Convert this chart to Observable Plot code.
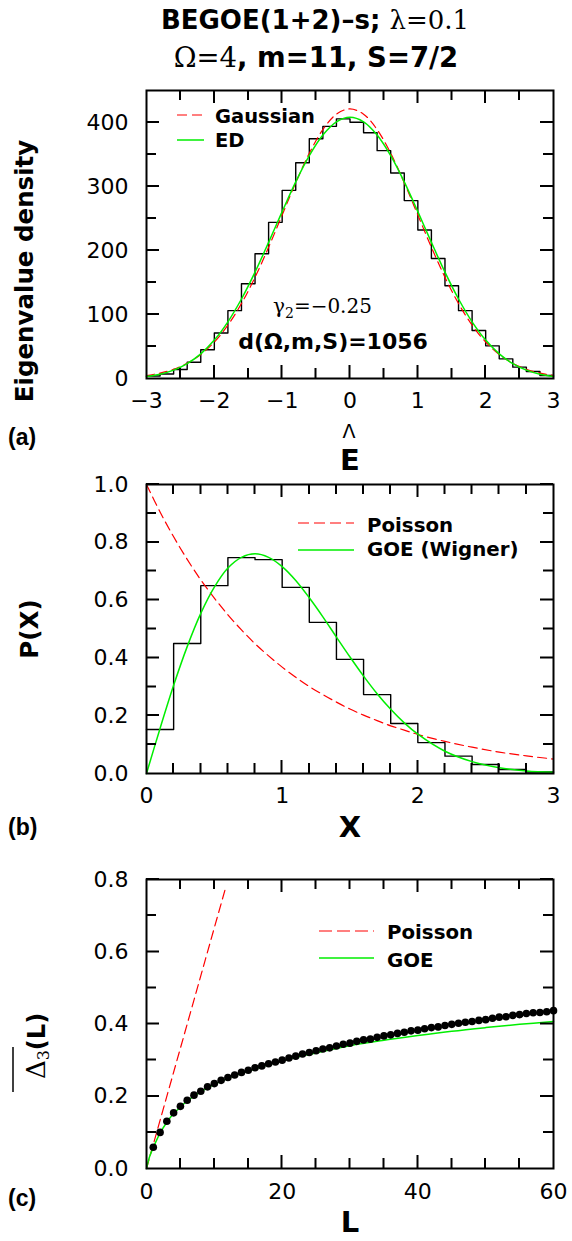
<!DOCTYPE html>
<html><head><meta charset="utf-8">
<script src="https://cdn.jsdelivr.net/npm/d3@7"></script>
<script src="https://cdn.jsdelivr.net/npm/@observablehq/plot@0.6"></script>
<style>
body{margin:0;background:#fff;}
#page{position:relative;width:572px;height:1241px;overflow:hidden;background:#fff;}
#overlay{position:absolute;left:0;top:0;pointer-events:none;}
.b{font-family:"DejaVu Sans";font-weight:bold;}
.s{font-family:"DejaVu Serif";font-weight:normal;}
.h{font-family:"Liberation Sans";font-weight:bold;}
.n{font-family:"DejaVu Sans";font-weight:normal;}
</style>
</head><body>
<div id="page"></div>
<script>
// ---------- Panel (a): eigenvalue density ----------
const histAEdges = [-3.0,-2.8,-2.6,-2.4,-2.2,-2.0,-1.8,-1.6,-1.4,-1.2,-1.0,-0.8,-0.6,-0.4,-0.2,0.0,0.2,0.4,0.6,0.8,1.0,1.2,1.4,1.6,1.8,2.0,2.2,2.4,2.6,2.8,3.0];
const histACounts = [4,7,14,25.5,45,71,106,148,195,244,294,337,374.5,394,405.7,400.5,384,356,321,278,232,187.5,145,106,75,51,30.7,17.7,11,4.7];
const curveAX = [-3.0,-2.8,-2.6,-2.4,-2.2,-2.0,-1.8,-1.6,-1.4,-1.2,-1.0,-0.8,-0.6,-0.4,-0.2,0.0,0.2,0.4,0.6,0.8,1.0,1.2,1.4,1.6,1.8,2.0,2.2,2.4,2.6,2.8,3.0];
const gaussianA = [4.7,8.4,14.3,23.7,37.5,57.0,83.4,117.1,158.1,205.1,255.5,305.9,351.9,388.9,413.0,421.3,413.0,388.9,351.9,305.9,255.5,205.1,158.1,117.1,83.4,57.0,37.5,23.7,14.3,8.4,4.7];
const edA = [3.2,6.8,13.1,23.3,38.5,60.0,88.6,124.2,166.2,212.7,260.8,307.3,348.3,380.5,401.1,408.1,401.1,380.5,348.3,307.3,260.8,212.7,166.2,124.2,88.6,60.0,38.5,23.3,13.1,6.8,3.2];
const aXMajor = [-3,-2,-1,0,1,2,3];
const aXMinor = [-2.5,-1.5,-0.5,0.5,1.5,2.5];
const aYMajor = [0,100,200,300,400];
const aYMinor = [50,150,250,350];

// ---------- Panel (b): nearest neighbour spacing ----------
const histBEdges = [0,0.2,0.4,0.6,0.8,1.0,1.2,1.4,1.6,1.8,2.0,2.2,2.4,2.6,2.8,3.0];
const histBValues = [0.152,0.45,0.65,0.747,0.74,0.644,0.523,0.395,0.273,0.173,0.107,0.06,0.031,0.014,0.005];
const curveBX = [0,0.1,0.2,0.3,0.4,0.5,0.6,0.7,0.8,0.9,1.0,1.1,1.2,1.3,1.4,1.5,1.6,1.7,1.8,1.9,2.0,2.2,2.4,2.6,2.8,3.0];
const poissonB = [1,0.905,0.819,0.741,0.670,0.607,0.549,0.497,0.449,0.407,0.368,0.333,0.301,0.273,0.247,0.223,0.202,0.183,0.165,0.150,0.135,0.111,0.091,0.074,0.061,0.050];
const wignerB = [0,0.156,0.305,0.439,0.554,0.645,0.711,0.748,0.760,0.748,0.716,0.668,0.608,0.542,0.472,0.403,0.337,0.276,0.222,0.175,0.136,0.077,0.041,0.020,0.009,0.004];
const bXMajor = [0,1,2,3];
const bXMinor = [0.2,0.4,0.6,0.8,1.2,1.4,1.6,1.8,2.2,2.4,2.6,2.8];
const bYMajor = [0,0.2,0.4,0.6,0.8,1.0];
const bYMinor = [0.1,0.3,0.5,0.7,0.9];

// ---------- Panel (c): Delta_3 statistic ----------
const cL = [1,2,3,4,5,6,7,8,9,10,11,12,13,14,15,16,17,18,19,20,21,22,23,24,25,26,27,28,29,30,31,32,33,34,35,36,37,38,39,40,41,42,43,44,45,46,47,48,49,50,51,52,53,54,55,56,57,58,59,60];
const cDelta3 = [0.059,0.100,0.131,0.154,0.172,0.189,0.203,0.214,0.226,0.235,0.244,0.252,0.259,0.266,0.272,0.279,0.284,0.290,0.295,0.300,0.306,0.311,0.317,0.321,0.326,0.331,0.334,0.339,0.344,0.347,0.352,0.356,0.358,0.363,0.367,0.370,0.374,0.377,0.381,0.383,0.387,0.390,0.392,0.396,0.399,0.402,0.405,0.407,0.410,0.412,0.416,0.419,0.420,0.424,0.426,0.429,0.431,0.432,0.434,0.437];
const goeCX = [0,0.5,1,2,3,4,5,6,8,10,12,15,20,25,30,35,40,45,50,55,60];
const goeCY = [0,0.035,0.058,0.098,0.128,0.152,0.170,0.187,0.212,0.233,0.250,0.270,0.298,0.320,0.340,0.355,0.368,0.380,0.390,0.399,0.407];
const poissonCX = [0,11.75];
const poissonCY = [0,0.783];
const cXMajor = [0,20,40,60];
const cXMinor = [5,10,15,25,30,35,45,50,55];
const cYMajor = [0,0.2,0.4,0.6,0.8];
const cYMinor = [0.1,0.3,0.5,0.7];

const RED = "#ff0000", GREEN = "#00ee00";
const W = 572, ML = 146, MR = 19, MT = 30;
const pairs = (xs, ys) => xs.map((x, i) => ({x, y: ys[i]}));
const stepData = (edges, vals) => edges.map((x, i) => ({x, y: vals[Math.min(i, vals.length - 1)]}));

function axesAndFrame(xMaj, yMaj, xFmt, yFmt, xPad) {
  return [
    Plot.axisX(xMaj, {anchor: "bottom", tickSize: 0, tickPadding: xPad, tickFormat: xFmt, label: null, fontSize: 22}),
    Plot.axisY(yMaj, {anchor: "left", tickSize: 0, tickPadding: 18, tickFormat: yFmt, label: null, fontSize: 22}),
    Plot.frame({stroke: "#000", strokeWidth: 2})
  ];
}

function panel(top, frameH, xDomain, yDomain, marks) {
  const svg = Plot.plot({
    width: W, height: MT + frameH + 40,
    marginTop: MT, marginBottom: 40, marginLeft: ML, marginRight: MR,
    x: {domain: xDomain}, y: {domain: yDomain},
    style: {fontFamily: "DejaVu Sans", background: "transparent", color: "black", overflow: "visible"},
    marks
  });
  svg.style.position = "absolute";
  svg.style.left = "0px";
  svg.style.top = top + "px";
  return svg;
}

// inward ticks on all four frame sides, placed with d3 linear scales matching each plot's x/y scales
function tickPath(top, frameH, xDom, yDom, xMaj, xMin, yMaj, yMin) {
  const yT = top + MT, yB = top + MT + frameH, xL = ML, xR = W - MR;
  const sx = d3.scaleLinear(xDom, [xL, xR]);
  const sy = d3.scaleLinear(yDom, [yB, yT]);
  let d = "";
  for (const [arr, len] of [[xMin, 10], [xMaj.slice(1, -1), 13]])
    for (const v of arr) {
      const x = Math.round(sx(v) * 2) / 2;
      d += `M${x},${yB}V${yB - len}M${x},${yT}V${yT + len}`;
    }
  for (const [arr, len] of [[yMin, 10], [yMaj.slice(1), 13]])
    for (const v of arr) {
      const y = Math.round(sy(v) * 2) / 2;
      d += `M${xL},${y}H${xL + len}M${xR},${y}H${xR - len}`;
    }
  return `<path d="${d}" fill="none" stroke="#000" stroke-width="2"/>`;
}

const page = document.getElementById("page");

page.appendChild(panel(60, 288, [-3, 3], [0, 450], [
  Plot.line(stepData(histAEdges, histACounts), {x: "x", y: "y", curve: "step-after", stroke: "black", strokeWidth: 1.4}),
  Plot.line(pairs(curveAX, gaussianA), {x: "x", y: "y", curve: "catmull-rom", stroke: RED, strokeWidth: 1.2, strokeDasharray: "8,5"}),
  Plot.line(pairs(curveAX, edA), {x: "x", y: "y", curve: "catmull-rom", stroke: GREEN, strokeWidth: 1.5}),
  ...axesAndFrame(aXMajor, aYMajor, d3.format("d"), d3.format("d"), 14)
]));
page.appendChild(panel(454, 289, [0, 3], [0, 1], [
  Plot.line(stepData(histBEdges, histBValues), {x: "x", y: "y", curve: "step-after", stroke: "black", strokeWidth: 1.4}),
  Plot.line(pairs(curveBX, poissonB), {x: "x", y: "y", curve: "catmull-rom", stroke: RED, strokeWidth: 1.2, strokeDasharray: "9,5"}),
  Plot.line(pairs(curveBX, wignerB), {x: "x", y: "y", curve: "catmull-rom", stroke: GREEN, strokeWidth: 1.5}),
  ...axesAndFrame(bXMajor, bYMajor, d3.format("d"), d3.format(".1f"), 14)
]));
page.appendChild(panel(849, 289, [0, 60], [0, 0.8], [
  Plot.line(pairs(poissonCX, poissonCY), {x: "x", y: "y", stroke: RED, strokeWidth: 1.2, strokeDasharray: "9,5"}),
  Plot.line(pairs(goeCX, goeCY), {x: "x", y: "y", curve: "catmull-rom", stroke: GREEN, strokeWidth: 1.5}),
  Plot.dot(pairs(cL, cDelta3), {x: "x", y: "y", r: 3.8, fill: "black", stroke: "none"}),
  ...axesAndFrame(cXMajor, cYMajor, d3.format("d"), d3.format(".1f"), 15)
]));

const ticks = tickPath(60, 288, [-3, 3], [0, 450], aXMajor, aXMinor, aYMajor, aYMinor)
  + tickPath(454, 289, [0, 3], [0, 1], bXMajor, bXMinor, bYMajor, bYMinor)
  + tickPath(849, 289, [0, 60], [0, 0.8], cXMajor, cXMinor, cYMajor, cYMinor);

// ---------- titles, axis titles, legends, annotations ----------
const overlay = `
<svg id="overlay" width="572" height="1241" viewBox="0 0 572 1241" xmlns="http://www.w3.org/2000/svg">
  ${ticks}
  <text x="315" y="29" text-anchor="middle" font-size="26"><tspan class="b">BEGOE(1+2)–s; </tspan><tspan class="s">λ=0.1</tspan></text>
  <text x="316" y="67" text-anchor="middle" font-size="27.5"><tspan class="s">Ω=4</tspan><tspan class="b">, m=11, S=7/2</tspan></text>

  <text class="b" font-size="24.5" text-anchor="middle" transform="translate(33,271) rotate(-90)">Eigenvalue density</text>
  <line x1="177" x2="204" y1="115" y2="115" stroke="${RED}" stroke-width="1.2" stroke-dasharray="10,5"/>
  <text class="b" x="215" y="123" font-size="19.5">Gaussian</text>
  <line x1="177" x2="204" y1="140" y2="140" stroke="${GREEN}" stroke-width="1.5"/>
  <text class="b" x="215" y="147" font-size="19.5">ED</text>
  <text class="s" x="273" y="313" font-size="20">γ<tspan font-size="14" dy="5">2</tspan><tspan dy="-5">=−0.25</tspan></text>
  <text class="b" x="333" y="349" text-anchor="middle" font-size="22">d(Ω,m,S)=1056</text>
  <text class="h" x="8" y="445" font-size="23">(a)</text>
  <text class="n" x="349" y="438" text-anchor="middle" font-size="19">Λ</text>
  <text class="b" x="350" y="470" text-anchor="middle" font-size="29">E</text>

  <text class="b" font-size="24.5" text-anchor="middle" transform="translate(38,629) rotate(-90)">P(X)</text>
  <line x1="298" x2="354" y1="523" y2="523" stroke="${RED}" stroke-width="1.2" stroke-dasharray="11,5"/>
  <text class="b" x="367" y="532" font-size="19.8">Poisson</text>
  <line x1="298" x2="354" y1="550" y2="550" stroke="${GREEN}" stroke-width="1.5"/>
  <text class="b" x="367" y="556" font-size="19.8">GOE (Wigner)</text>
  <text class="h" x="8" y="835" font-size="23">(b)</text>
  <text class="b" x="350" y="837" text-anchor="middle" font-size="29">X</text>

  <g transform="translate(45,1046) rotate(-90)">
    <text text-anchor="middle" font-size="24"><tspan class="s" font-size="26">Δ</tspan><tspan class="s" font-size="16" dy="4">3</tspan><tspan class="b" dy="-4">(L)</tspan></text>
    <line x1="-46" x2="-1" y1="-32" y2="-32" stroke="black" stroke-width="1.5"/>
  </g>
  <line x1="319" x2="374" y1="931" y2="931" stroke="${RED}" stroke-width="1.2" stroke-dasharray="13,5"/>
  <text class="b" x="387" y="939" font-size="19.8">Poisson</text>
  <line x1="319" x2="374" y1="958" y2="958" stroke="${GREEN}" stroke-width="1.5"/>
  <text class="b" x="387" y="967" font-size="19.8">GOE</text>
  <text class="h" x="8" y="1206" font-size="23">(c)</text>
  <text class="b" x="350" y="1232" text-anchor="middle" font-size="29">L</text>
</svg>`;
page.insertAdjacentHTML("beforeend", overlay);
</script>
</body></html>
